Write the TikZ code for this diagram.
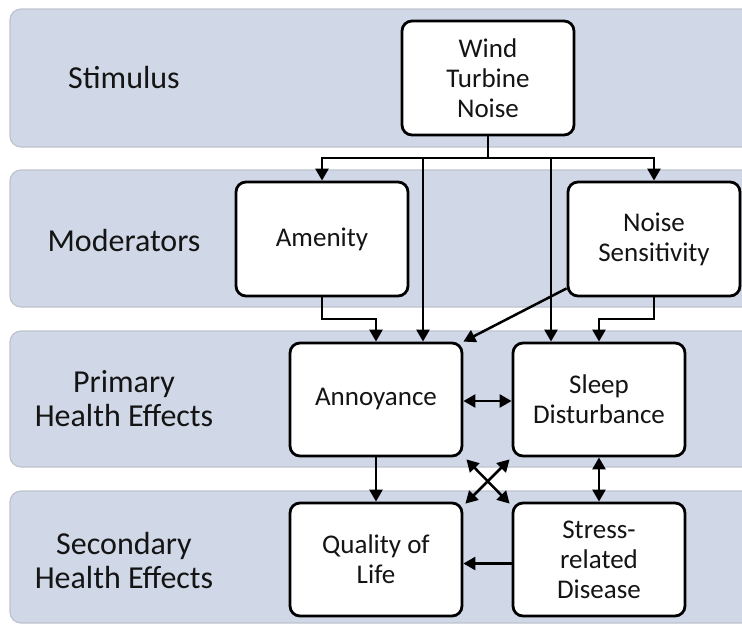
\documentclass[tikz,border=0pt]{standalone}
\usepackage{fontspec}
\setmainfont{Carlito}
\usetikzlibrary{arrows.meta,calc}
\definecolor{bandfill}{HTML}{D0D8E7}
\definecolor{banddraw}{HTML}{BFC3CC}
\definecolor{txt}{HTML}{141414}
\tikzset{
  band/.style={fill=bandfill,draw=banddraw,line width=1.2pt,rounded corners=11pt},
  box/.style={draw=black,fill=white,line width=2.8pt,rounded corners=10pt,
    minimum width=172pt,minimum height=114pt,align=center,inner sep=0pt,
    font=\fontsize{27}{30}\selectfont,text=txt},
  lbl/.style={align=center,font=\fontsize{32}{34}\selectfont,text=txt},
  conn/.style={line width=2.5pt,draw=black},
  arr/.style={conn,-{Triangle[length=12pt,width=13pt]}},
  darr/.style={conn,{Triangle[length=12pt,width=13pt]}-{Triangle[length=12pt,width=13pt]}}
}
\begin{document}
\begin{tikzpicture}[x=1pt,y=-1pt]
\useasboundingbox (0,0) rectangle (742,625);
\clip (0,0) rectangle (742,625);
% bands
\path[band] (10,9) rectangle (770,147);
\path[band] (10,170) rectangle (770,307);
\path[band] (10,331) rectangle (770,467);
\path[band] (10,491) rectangle (770,623);
% row labels
\node[lbl] (l1) at (124,78) {Stimulus};
\node[lbl] (l2) at (124,240) {Moderators};
\node[lbl] (l3) at (124,399) {Primary\\Health Effects};
\node[lbl] (l4) at (124,560) {Secondary\\Health Effects};
% boxes
\node[box] (wind) at (488,78) {Wind\\Turbine\\Noise};
\node[box] (amen) at (322,239) {Amenity};
\node[box] (noise) at (654,239) {Noise\\Sensitivity};
\node[box,minimum height=113pt] (ann) at (376,399.5) {Annoyance};
\node[box,minimum height=113pt] (sleep) at (599,399.5) {Sleep\\Disturbance};
\node[box,minimum height=113pt] (qol) at (376,559.5) {Quality of\\Life};
\node[box,minimum height=113pt] (stress) at (599,559.5) {Stress-\\related\\Disease};
% junction coordinates
\coordinate (hub) at (wind.south|-0,158);
\coordinate (hubL) at (amen.north|-0,158);
\coordinate (hubR) at (noise.north|-0,158);
\coordinate (hubA) at (423,158);
\coordinate (hubS) at (551,158);
\coordinate (elA) at (amen.south|-0,319);
\coordinate (elN) at (noise.south|-0,319);
\coordinate (nsw) at ($(noise.south west)+(0,-9)$);
\coordinate (sq) at ($(stress.west)+(0,4)$);
\coordinate (c1) at ($(ann.south east)+(3,2)$);
\coordinate (c2) at ($(stress.north west)+(-2,2)$);
\coordinate (c3) at ($(sleep.south west)+(-2,2)$);
\coordinate (c4) at ($(qol.north east)+(2,2)$);
% connectors
\draw[conn] (wind.south) -- (hub);
\draw[conn,line cap=rect] (hubL) -- (hubR);
\draw[arr] (hubL) -- (amen.north);
\draw[arr] (hubR) -- (noise.north);
\draw[arr] (hubA) -- (hubA|-ann.north);
\draw[arr] (hubS) -- (hubS|-sleep.north);
\draw[arr] (amen.south) -- (elA) -| (ann.north);
\draw[arr] (noise.south) -- (elN) -| (sleep.north);
\draw[arr] (nsw) -- (ann.north east);
\draw[darr] (ann.east|-0,401) -- (sleep.west|-0,401);
\draw[arr] (ann.south) -- (ann.south|-qol.north);
\draw[darr] (sleep.south) -- (stress.north);
\draw[darr] (c1) -- (c2);
\draw[darr] (c3) -- (c4);
\draw[arr] (sq) -- (qol.east|-sq);
\end{tikzpicture}
\end{document}
